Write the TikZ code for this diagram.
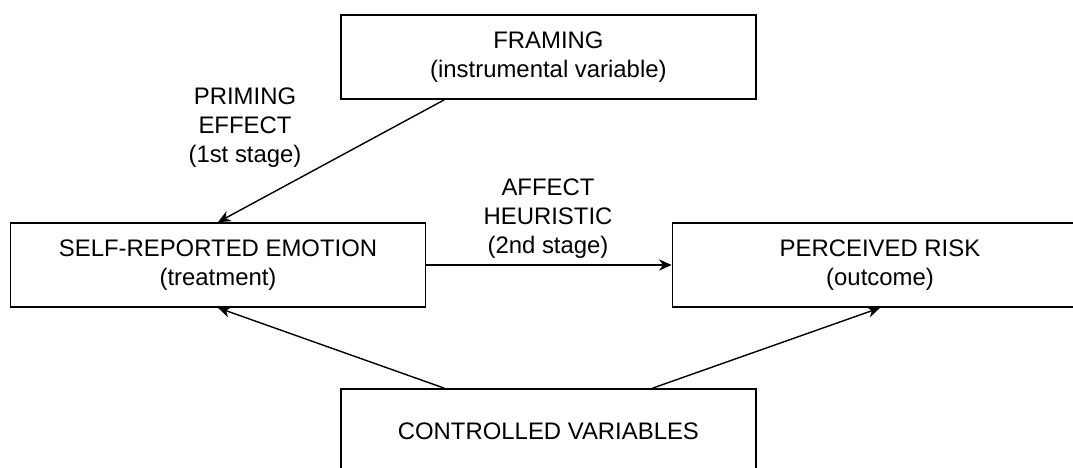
\documentclass[tikz,border=0pt]{standalone}
\usepackage{fontspec}
\setmainfont{Liberation Sans}
\usetikzlibrary{arrows.meta, positioning, calc}

\begin{document}
\begin{tikzpicture}[
  block/.style={rectangle, minimum width=10.375cm, minimum height=2.1cm, text centered, align=center, draw=black, line width=1.2pt, font=\fontsize{17}{20.6}\selectfont},
  effect/.style={text centered, align=center, font=\fontsize{17}{20.6}\selectfont},
  arrow/.style={line width=1pt,-{Stealth[length=9pt,width=8pt]}}]

  \useasboundingbox (0,0) rectangle (26.825,11.7);

  % Nodes
  \node (framing) [block] at (13.71,10.275) {FRAMING \\ (instrumental variable)};
  \node (emotion) [block] at (5.45,5.075) {SELF-REPORTED EMOTION \\ (treatment)};
  \node (risk) [block, right of=emotion, xshift=15.55cm] {PERCEIVED RISK \\ (outcome)};
  \node (controlled) [block, below of=framing, yshift=-8.35cm] {CONTROLLED VARIABLES};

  % Labels
  \node (priming) [effect] at (6.125,8.5) {PRIMING \\ EFFECT \\ (1st stage)};
  \node (affect) [effect] at (13.7,6.225) {AFFECT \\ HEURISTIC \\ (2nd stage)};

  % Arrows
  \draw [arrow] ($(framing.south west)!0.25!(framing.south east)$) -- (emotion.north);
  \draw [arrow] (emotion) -- (risk);
  \draw [arrow] ($(controlled.north west)!0.25!(controlled.north east)$) -- (emotion.south);
  \draw [arrow] ($(controlled.north west)!0.75!(controlled.north east)$) -- (risk.south);

\end{tikzpicture}
\end{document}
